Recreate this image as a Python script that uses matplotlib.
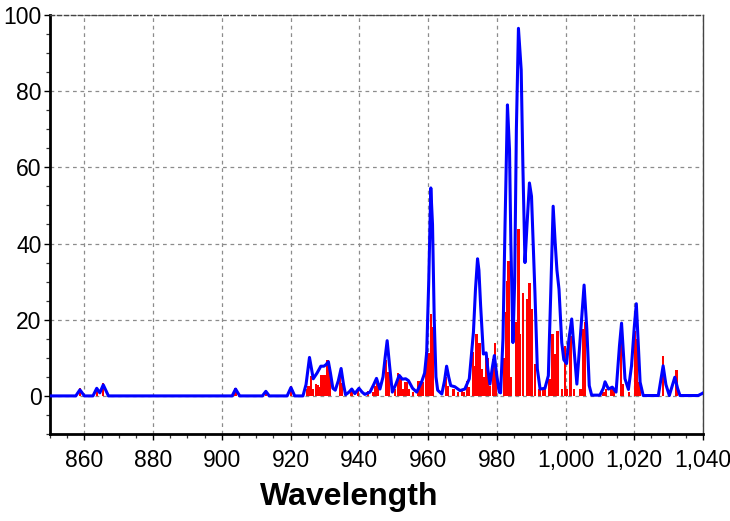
import matplotlib
matplotlib.use("Agg")
import matplotlib.pyplot as plt
from matplotlib.ticker import MultipleLocator, FuncFormatter

plt.rcParams['font.family'] = ['Liberation Sans', 'DejaVu Sans']

# Stick spectrum (red): wavelength positions and intensities
stick_x = [858.7, 863.6, 865.5, 904.0, 912.8, 920.1,
           924.8, 925.2, 925.9, 926.6, 927.4, 927.9, 928.4, 928.8, 929.5, 930.0,
           930.8, 931.3, 934.4, 934.9, 937.5, 937.8, 939.7, 942.6, 944.1, 944.6,
           945.3, 947.8, 948.5, 950.4, 951.3, 952.0, 952.6, 953.3, 953.8, 954.3,
           955.6, 957.2, 957.7, 958.4, 959.4, 960.1, 960.8, 961.4, 965.2, 965.6,
           967.2, 967.5, 968.8, 969.8, 970.5, 971.4, 972.0, 973.0, 973.6, 974.1,
           975.0, 975.6, 976.3, 976.9, 977.3, 978.0, 979.0, 979.4, 979.8, 982.3,
           982.7, 983.0, 983.4, 984.1, 985.6, 986.3, 986.6, 987.6, 988.9, 989.5,
           990.2, 991.1, 992.4, 993.4, 994.0, 995.3, 996.2, 996.9, 997.7, 998.9,
           999.8, 1000.5, 1001.5, 1002.4, 1004.4, 1005.0, 1005.7, 1011.0, 1011.7,
           1013.4, 1013.9, 1016.1, 1016.8, 1018.5, 1020.2, 1020.7, 1021.5,
           1028.4, 1032.3]
stick_y = [2.0, 2.2, 3.4, 2.0, 1.3, 2.5,
           1.8, 2.7, 5.3, 1.8, 3.0, 2.8, 2.3, 5.4, 5.4, 5.5,
           9.5, 7.5, 5.8, 3.5, 1.8, 2.2, 1.6, 1.4, 1.0, 2.6,
           3.4, 9.5, 6.2, 1.8, 6.0, 5.2, 1.8, 3.6, 3.7, 1.8,
           1.0, 4.0, 4.0, 3.7, 11.4, 11.2, 21.5, 18.0, 4.9, 2.7,
           1.8, 1.8, 1.0, 1.8, 1.0, 4.0, 2.3, 11.4, 7.9, 16.2,
           14.0, 7.1, 4.9, 11.0, 10.0, 2.7, 9.7, 14.0, 5.9, 10.0,
           22.0, 30.2, 35.4, 5.0, 19.3, 43.7, 16.2, 27.0, 25.4, 29.7,
           22.7, 8.5, 1.8, 1.8, 1.8, 4.5, 16.2, 11.0, 17.1, 1.8,
           13.0, 1.8, 15.8, 1.8, 1.8, 17.6, 19.4, 1.0, 1.8,
           1.8, 1.8, 16.0, 3.0, 1.0, 17.1, 14.9, 3.6,
           10.5, 6.9]

# Broadened spectrum (blue)
env_x = [850.0, 857.5, 858.7, 860.0, 862.5, 863.6, 864.5, 865.5, 867.0,
         903.0, 904.0, 905.2, 911.8, 912.8, 913.8, 919.0, 920.1, 921.2,
         923.6, 924.5, 925.5, 926.6, 927.7, 928.8, 929.7, 930.3, 931.0, 931.6,
         932.3, 933.0, 933.9, 934.7, 935.4, 936.0, 937.0, 937.8, 938.7, 939.9,
         940.8, 941.6, 943.1, 944.2, 945.0, 946.0, 946.9, 947.5, 948.1, 948.8,
         949.6, 950.6, 951.6, 952.5, 953.5, 954.3, 955.5, 956.7, 958.1, 959.0,
         959.6, 960.2, 960.8, 961.3, 961.8, 962.3, 962.8, 964.0, 964.8, 965.4,
         966.0, 966.6, 967.8, 969.3, 970.7, 972.0, 973.2, 973.8, 974.4, 974.8,
         975.3, 976.1, 976.9, 977.4, 978.0, 978.8, 979.3, 979.9, 980.7, 981.1,
         981.8, 982.4, 983.1, 983.7, 984.1, 984.7, 985.2, 985.7, 986.3, 987.1,
         987.6, 988.2, 988.8, 989.5, 990.1, 990.6, 991.1, 991.8, 992.6, 994.0,
         995.0, 995.7, 996.4, 997.0, 997.5, 998.1, 998.9, 999.5, 1000.3, 1001.0,
         1001.8, 1002.5, 1003.3, 1004.4, 1005.4, 1006.2, 1006.9, 1007.6, 1010.0,
         1011.0, 1011.5, 1012.5, 1013.6, 1014.7, 1015.7, 1016.3, 1016.8, 1017.3,
         1018.3, 1019.2, 1020.0, 1020.6, 1021.1, 1021.7, 1022.6, 1027.0, 1027.7,
         1028.4, 1029.2, 1030.2, 1031.0, 1031.8, 1032.6, 1033.3, 1038.6, 1039.9,
         1040.0]
env_y = [0.0, 0.0, 1.6, 0.0, 0.0, 2.0, 0.8, 2.9, 0.0,
         0.0, 1.8, 0.0, 0.0, 1.2, 0.0, 0.0, 2.2, 0.0,
         0.0, 3.0, 10.1, 4.5, 6.0, 7.8, 7.8, 8.2, 9.0, 6.0,
         2.0, 1.5, 4.0, 7.2, 3.0, 0.3, 1.0, 1.8, 0.6, 2.0,
         1.0, 0.4, 1.0, 3.0, 4.6, 1.8, 5.0, 10.0, 14.5, 8.0,
         1.0, 3.0, 5.4, 4.4, 4.5, 4.0, 2.0, 1.0, 3.6, 6.0,
         11.4, 30.0, 54.6, 45.0, 20.0, 5.0, 1.5, 0.5, 4.0, 7.8,
         5.0, 2.7, 2.4, 1.4, 1.8, 4.5, 16.7, 28.0, 36.0, 33.0,
         23.6, 11.0, 11.3, 7.0, 3.1, 8.0, 10.6, 6.0, 1.0, 0.8,
         15.0, 45.0, 76.4, 64.7, 40.0, 14.0, 30.0, 70.0, 96.5, 85.6,
         60.0, 35.0, 45.0, 55.9, 52.4, 40.0, 27.1, 7.1, 1.8, 2.0,
         5.3, 27.0, 49.8, 40.0, 33.0, 28.0, 14.0, 9.5, 8.5, 15.0,
         20.2, 12.0, 3.1, 16.7, 29.1, 17.5, 2.7, 0.2, 0.2,
         2.0, 3.7, 1.8, 2.3, 1.0, 13.2, 19.1, 12.0, 4.5,
         1.7, 7.9, 18.0, 24.2, 15.0, 3.6, 0.1, 0.1, 4.0,
         7.9, 3.0, 0.1, 2.5, 4.9, 2.0, 0.1, 0.1, 0.7,
         0.8]

x_ticks = [860, 880, 900, 920, 940, 960, 980, 1000, 1020, 1040]
y_ticks = [0, 20, 40, 60, 80, 100]

fig = plt.figure(figsize=(7.30, 5.21), dpi=100)
ax = fig.add_axes([50/730, (521-434)/521, (703-50)/730, (434-15)/521])

ax.bar(stick_x, stick_y, width=0.7, color='#ff0000', linewidth=0, zorder=2)
ax.plot(env_x, env_y, color='#0000ff', lw=2.2, zorder=3,
        solid_joinstyle='round', solid_capstyle='round')

ax.set_xlim(850, 1040)
ax.set_ylim(-10, 100)
ax.set_xticks(x_ticks)
ax.set_yticks(y_ticks)
ax.xaxis.set_minor_locator(MultipleLocator(5))
ax.yaxis.set_minor_locator(MultipleLocator(5))
ax.xaxis.set_major_formatter(FuncFormatter(lambda v, p: f"{int(v):,}"))

ax.grid(True, which='major', color='#8c8c8c', linestyle=(0, (3, 3)), linewidth=0.9, zorder=0)
ax.set_axisbelow(True)

for s in ['left', 'bottom']:
    ax.spines[s].set_linewidth(2.0)
    ax.spines[s].set_color('black')
ax.spines['top'].set_linestyle((0, (3, 2)))
ax.spines['top'].set_color('#444444')
ax.spines['top'].set_linewidth(1.0)
ax.spines['right'].set_color('#444444')
ax.spines['right'].set_linewidth(1.0)

ax.tick_params(axis='both', which='major', direction='out', length=4, width=1.0,
               labelsize=16.5, colors='black')
ax.tick_params(axis='x', which='major', pad=7)
ax.tick_params(axis='y', which='major', pad=2)
ax.tick_params(axis='both', which='minor', direction='out', length=3, width=0.9, colors='#333333')
ax.tick_params(top=False, right=False, which='both')

fig.text(349/730, 1 - 497/521, 'Wavelength', fontsize=23, fontweight='bold',
         ha='center', va='center')

fig.savefig('out.png', dpi=100)
